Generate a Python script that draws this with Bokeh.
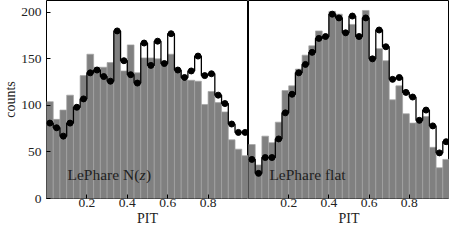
import numpy as np
from bokeh.plotting import figure
from bokeh.layouts import row
from bokeh.models import FixedTicker, Label, Range1d
from bokeh.embed import file_html
from bokeh.resources import INLINE

# ---- data ----
n_bins = 30
x_lo, x_hi = 0.0, 1.0
y_lo, y_hi = 0.0, 212.7

nz_hist = [104, 85, 95, 111, 97, 132, 155, 141, 141, 146, 178, 137, 165, 135, 151,
           151, 150, 147, 155, 137, 127, 127, 126, 101, 115, 103, 93, 63, 53, 46]
nz_line = [81, 76, 67, 81, 98, 107, 135, 138, 131, 126, 180, 148, 133, 124, 167,
           143, 169, 145, 177, 138, 130, 137, 153, 132, 134, 111, 102, 80, 71, 71]

flat_hist = [58, 36, 67, 60, 82, 116, 121, 139, 154, 164, 180, 174, 201, 198, 179,
             187, 174, 202, 149, 161, 148, 106, 121, 91, 81, 82, 88, 55, 33, 42]
flat_line = [42, 27, 44, 44, 64, 92, 112, 135, 144, 157, 172, 174, 198, 194, 178,
             196, 174, 194, 150, 181, 163, 128, 130, 114, 109, 84, 95, 78, 49, 61]

y_ticks = [0, 50, 100, 150, 200]
x_ticks = [0.2, 0.4, 0.6, 0.8]
x_label = "PIT"
y_label = "counts"

FONT = "Liberation Serif"
TXT = "#222222"


def make_panel(hist, line, frame_w, left_axis, min_left):
    p = figure(frame_width=frame_w, frame_height=198, output_backend="svg",
               toolbar_location=None,
               x_range=Range1d(x_lo, x_hi), y_range=Range1d(y_lo, y_hi),
               min_border_left=min_left, min_border_right=0,
               min_border_top=0, min_border_bottom=30)
    p.outline_line_color = "black"
    p.outline_line_width = 1
    p.xgrid.visible = False
    p.ygrid.visible = False
    p.background_fill_color = "white"
    p.border_fill_color = "white"

    edges = np.linspace(x_lo, x_hi, n_bins + 1)
    p.quad(left=edges[:-1], right=edges[1:], bottom=0, top=hist,
           fill_color="#808080", line_color="#a3a3a3", line_width=0.7)

    xs = np.repeat(edges, 2)[1:-1]
    ys = np.repeat(np.array(line, dtype=float), 2)
    p.line(xs, ys, line_color="black", line_width=1.3)
    centers = 0.5 * (edges[:-1] + edges[1:])
    p.scatter(centers, line, size=6, color="black")

    for ax in (p.xaxis[0], p.yaxis[0]):
        ax.axis_line_color = None
        ax.major_tick_in = 4
        ax.major_tick_out = 0
        ax.major_tick_line_color = "black"
        ax.minor_tick_line_color = None
        ax.major_label_text_font = FONT
        ax.major_label_text_font_size = "13.5px"
        ax.major_label_text_color = TXT
        ax.axis_label_text_font = FONT
        ax.axis_label_text_font_size = "14px"
        ax.axis_label_text_font_style = "normal"
        ax.axis_label_text_color = TXT

    p.xaxis.ticker = FixedTicker(ticks=x_ticks)
    p.xaxis.major_label_standoff = 0
    p.xaxis.axis_label = x_label
    p.xaxis.axis_label_standoff = 1

    p.yaxis.ticker = FixedTicker(ticks=y_ticks)
    if left_axis:
        p.yaxis.major_label_standoff = 5
        p.yaxis.axis_label = y_label
        p.yaxis.axis_label_standoff = 0
    else:
        p.yaxis.visible = False
    return p


p1 = make_panel(nz_hist, nz_line, 202, True, 39)
p2 = make_panel(flat_hist, flat_line, 201, False, 0)

# panel labels
lab_y = 25.7
lab_x = 0.104
common = dict(text_font=FONT, text_font_size="15.5px", text_color=TXT, text_baseline="middle")
p1.add_layout(Label(x=lab_x, y=lab_y, text="LePhare N(", **common))
p1.add_layout(Label(x=lab_x, y=lab_y, x_offset=72, text="z", text_font_style="italic", **common))
p1.add_layout(Label(x=lab_x, y=lab_y, x_offset=78.5, text=")", **common))
p2.add_layout(Label(x=lab_x, y=lab_y, text="LePhare flat", **common))

layout = row(p1, p2)

open("out.html", "w").write(file_html(layout, INLINE))
